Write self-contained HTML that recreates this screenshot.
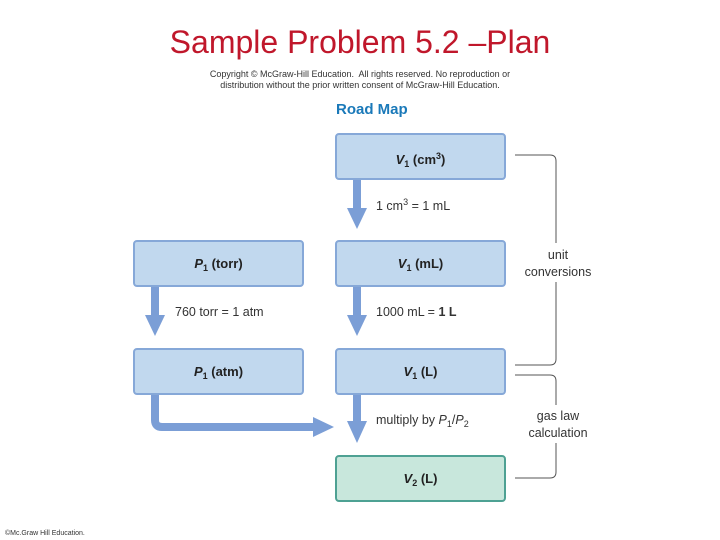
<!DOCTYPE html>
<html><head><style>
body{margin:0;width:720px;height:540px;background:#fff;position:relative;font-family:"Liberation Sans",sans-serif;overflow:hidden}
.t{position:absolute;white-space:nowrap}
.b{position:absolute;box-sizing:border-box;background:#c1d8ee;border:2px solid #86a8d8;border-radius:4px;width:171px;height:47px;text-align:center;line-height:43px;font-weight:bold;font-size:13px;color:#222}
.g{background:#c8e7dc;border-color:#4ea193}
i{font-style:italic}
sub{font-size:9px;vertical-align:-3px}
sup{font-size:9px;vertical-align:5px}
.l{font-size:12.5px;color:#333}
</style></head><body>
<div class="t" style="left:0;width:720px;text-align:center;top:24px;font-size:32px;color:#c0172b">Sample Problem 5.2 –Plan</div>
<div class="t" style="left:0;width:720px;text-align:center;top:69px;font-size:9px;line-height:11px;color:#333">Copyright © McGraw-Hill Education.&nbsp; All rights reserved. No reproduction or<br>distribution without the prior written consent of McGraw-Hill Education.</div>
<div class="t" style="left:336px;top:101px;font-size:15px;font-weight:bold;color:#1a79b9">Road Map</div>

<div class="b" style="left:335px;top:133px"><i>V</i><sub>1</sub> (cm<sup>3</sup>)</div>
<div class="b" style="left:335px;top:240px"><i>V</i><sub>1</sub> (mL)</div>
<div class="b" style="left:335px;top:348px"><i>V</i><sub>1</sub> (L)</div>
<div class="b g" style="left:335px;top:455px"><i>V</i><sub>2</sub> (L)</div>
<div class="b" style="left:133px;top:240px"><i>P</i><sub>1</sub> (torr)</div>
<div class="b" style="left:133px;top:348px"><i>P</i><sub>1</sub> (atm)</div>

<svg style="position:absolute;left:0;top:0" width="720" height="540">
<g fill="#7b9ed6">
<rect x="353" y="180" width="8" height="30"/><polygon points="347,208 367,208 357,229"/>
<rect x="353" y="287" width="8" height="30"/><polygon points="347,315 367,315 357,336"/>
<rect x="151" y="287" width="8" height="30"/><polygon points="145,315 165,315 155,336"/>
<rect x="353" y="395" width="8" height="28"/><polygon points="347,421 367,421 357,443"/>
<polygon points="313,417 313,437 334,427"/>
</g>
<path d="M155 395 V420 Q155 427 162 427 H315" fill="none" stroke="#7b9ed6" stroke-width="8"/>
<g fill="none" stroke="#555" stroke-width="1">
<path d="M515 155 H550 Q556 155 556 161 V243 M556 282 V359 Q556 365 550 365 H515"/>
<path d="M515 375 H550 Q556 375 556 381 V405 M556 443 V472 Q556 478 550 478 H515"/>
</g>
</svg>

<div class="t l" style="left:376px;top:197px">1 cm<sup>3</sup> = 1 mL</div>
<div class="t l" style="left:376px;top:305px">1000 mL = <b>1 L</b></div>
<div class="t l" style="left:175px;top:305px">760 torr = 1 atm</div>
<div class="t l" style="left:376px;top:413px">multiply by <i>P</i><sub>1</sub>/<i>P</i><sub>2</sub></div>
<div class="t l" style="left:508px;width:100px;text-align:center;top:247px;line-height:17px">unit<br>conversions</div>
<div class="t l" style="left:508px;width:100px;text-align:center;top:408px;line-height:17px">gas law<br>calculation</div>
<div class="t" style="left:5px;top:530px;font-size:7px;color:#333">©Mc.Graw Hill Education.</div>
</body></html>
